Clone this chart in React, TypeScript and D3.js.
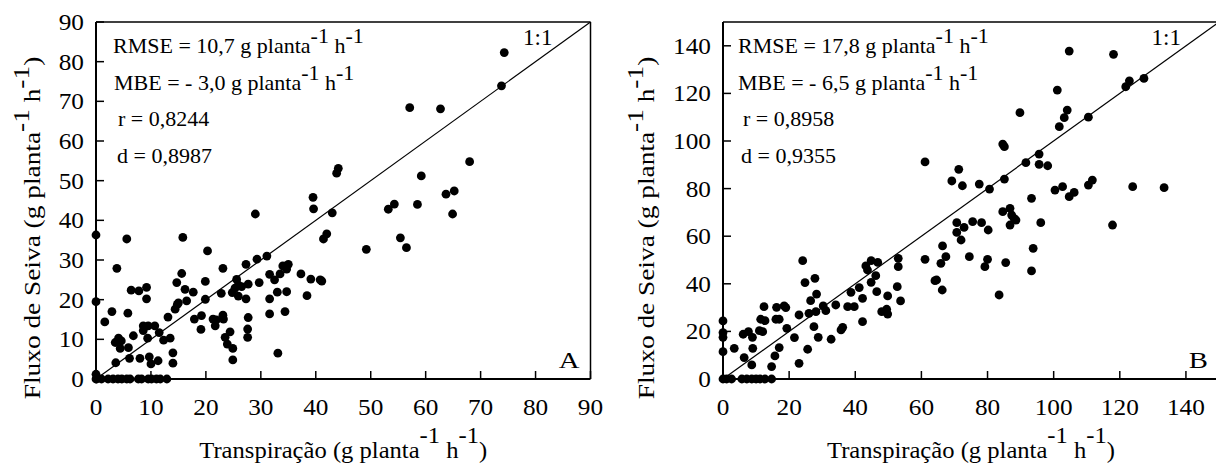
import React from "react";
import * as d3 from "d3";

// ---------- data ----------
const ticksA = [0, 10, 20, 30, 40, 50, 60, 70, 80, 90];
const ticksB = [0, 20, 40, 60, 80, 100, 120, 140];

const panelA_x = [
  0, 0, 5.6, 15.8, 3.8, 1.6, 2.9, 3.5, 4.1, 4.4, 4.6, 3.6, 5.8, 6.4, 7.8, 9.2, 9.2, 6.8, 5.9, 6.1,
  8.0, 8.6, 8.6, 9.5, 9.4, 10.7, 11.5, 9.7, 10.0, 11.3, 12.3, 13.5, 14.0, 14.0, 13.1, 14.4, 14.8, 15.0, 14.7, 15.6,
  16.2, 16.5, 17.7, 17.9, 19.2, 19.1, 19.9, 20.3, 19.9, 21.3, 21.7, 21.9, 22.8, 23.1, 23.1, 23.2, 23.5, 23.9, 24.4, 24.9,
  24.9, 24.8, 25.6, 25.9, 25.3, 25.9, 26.5, 27.3, 27.3, 27.7, 27.7, 27.6, 27.6, 29.3, 29.7, 31.1, 31.6, 31.6, 31.6, 32.5,
  33.0, 33.5, 33.1, 34.0, 34.7, 35.0, 34.4, 34.7, 37.3, 38.4, 39.1, 40.8, 41.1, 41.4, 42.0, 49.2, 29.0, 39.5, 39.6, 43.0,
  43.8, 44.1, 53.2, 54.3, 55.4, 56.5, 58.5, 59.2, 57.1, 62.7, 63.7, 65.2, 64.9, 68.0, 73.8, 74.3,
  0, 0.1, 1.0, 2.2, 3.1, 4.0, 4.7, 5.6, 6.2, 7.7, 8.3, 9.5, 10.1, 11.0, 11.7, 12.9, 0,
];
const panelA_y = [
  36.3, 19.5, 35.3, 35.7, 27.9, 14.4, 17.0, 9.2, 10.3, 7.7, 9.6, 4.1, 16.6, 22.4, 22.2, 23.1, 20.2, 10.9, 7.9, 5.2,
  5.2, 13.4, 12.2, 13.4, 10.3, 13.4, 11.7, 5.6, 3.8, 4.6, 9.8, 10.3, 6.6, 4.0, 15.6, 17.6, 18.8, 19.2, 24.3, 26.6,
  22.6, 19.7, 21.9, 15.1, 16.0, 12.5, 24.6, 32.3, 20.1, 15.1, 13.4, 14.9, 21.6, 27.9, 16.1, 15.1, 10.5, 8.8, 11.9, 7.7,
  4.8, 21.8, 25.1, 23.7, 22.9, 20.9, 23.3, 28.9, 20.2, 23.9, 15.5, 12.6, 10.5, 30.2, 24.3, 31.0, 20.2, 26.4, 16.4, 25.0,
  21.9, 26.5, 6.5, 28.5, 27.7, 28.9, 17.0, 22.0, 26.5, 21.0, 25.2, 25.0, 24.7, 35.3, 36.6, 32.7, 41.6, 45.8, 42.9, 41.9,
  51.9, 53.1, 42.8, 44.1, 35.6, 33.1, 44.0, 51.2, 68.4, 68.1, 46.6, 47.4, 41.6, 54.8, 73.9, 82.3,
  0, 0, 0, 0, 0, 0, 0, 0, 0, 0, 0, 0, 0, 0, 0, 0, 1.2,
];

const panelB_x = [
  0, 0, 0, 0, 3.4, 6.1, 7.7, 8.9, 6.4, 9.0, 8.7, 11.0, 12.0, 11.4, 12.7, 12.4, 14.7, 15.7, 17.0, 16.0,
  17.0, 16.2, 18.5, 19.0, 19.3, 21.6, 23.0, 23.0, 24.1, 24.8, 25.6, 26.0, 26.5, 27.5, 27.8, 28.3, 28.1, 28.8, 30.3, 31.1,
  32.7, 34.1, 35.7, 36.2, 38.7, 37.7, 39.7, 41.2, 42.2, 42.2, 43.2, 43.7, 44.8, 46.8, 44.8, 46.2, 46.5, 48.0, 49.5, 49.8,
  49.8, 52.7, 53.0, 53.0, 53.7, 61.1, 64.1, 64.6, 66.3, 66.4, 67.4, 65.9, 70.7, 70.7, 72.0, 72.9, 74.5, 75.5, 78.2, 79.2,
  80.0, 80.2, 85.5, 83.5, 86.8, 88.6, 88.0, 87.3, 84.6, 86.8, 93.8, 93.3, 96.1, 117.8, 61.1, 69.2, 71.3, 72.4, 77.5, 80.6,
  85.1, 84.6, 85.1, 89.8, 91.6, 95.6, 95.6, 98.2, 93.3, 100.4, 102.7, 104.7, 106.2, 110.5, 111.7, 123.9, 133.4, 101.7, 103.2, 104.1,
  110.5, 101.1, 104.7, 118.1, 121.8, 122.9, 127.3,
  0, 1.1, 2.6, 5.7, 7.2, 8.7, 10.0, 11.2, 12.7, 14.7,
];
const panelB_y = [
  24.4, 19.5, 17.5, 11.5, 12.9, 18.8, 19.9, 17.5, 9.0, 12.9, 5.9, 20.3, 19.9, 25.1, 24.5, 30.4, 5.2, 9.7, 13.2, 25.1,
  25.1, 30.1, 30.7, 30.0, 21.3, 17.4, 26.9, 6.6, 49.7, 40.5, 12.5, 27.6, 32.9, 22.0, 42.3, 35.7, 28.3, 17.5, 30.7, 28.7,
  16.7, 31.1, 20.6, 21.7, 36.4, 30.4, 30.4, 38.4, 24.1, 33.9, 47.5, 45.8, 49.7, 49.0, 40.6, 43.4, 36.7, 28.3, 29.3, 27.3,
  34.9, 38.8, 50.7, 47.2, 32.8, 50.3, 41.3, 41.6, 37.4, 55.9, 51.4, 48.6, 65.7, 61.6, 58.4, 63.7, 51.4, 66.1, 65.7, 47.2,
  50.3, 62.6, 48.9, 35.3, 64.7, 66.8, 67.5, 68.9, 70.3, 71.7, 54.9, 45.4, 65.7, 64.7, 91.2, 83.2, 88.1, 81.2, 81.9, 79.8,
  84.0, 98.7, 97.6, 111.9, 90.9, 94.5, 90.2, 89.6, 75.9, 79.4, 80.8, 76.6, 78.4, 81.5, 83.6, 80.8, 80.4, 106.0, 109.8, 113.0,
  110.0, 121.4, 137.8, 136.4, 122.8, 125.3, 126.3,
  0, 0, 0, 0, 0, 0, 0, 0, 0, 0,
];

const statsA = ["10,7", "- 3,0", "0,8244", "0,8987"];
const statsB = ["17,8", "- 6,5", "0,8958", "0,9355"];

const FONT = "Liberation Serif";

type PanelProps = {
  xs: number[];
  ys: number[];
  ticks: number[];
  max: number;
  left: number;
  right: number;
  stats: string[];
  letter: string;
  ytitleX: number;
  statsDx: number[];
};

function Sup({ text, raise }: { text: string; raise: number }) {
  return (
    <>
      <tspan dy={-raise}>-1</tspan>
      <tspan dy={raise}>{text}</tspan>
    </>
  );
}

function Panel({ xs, ys, ticks, max, left, right, stats, letter, ytitleX, statsDx }: PanelProps) {
  const top = 22;
  const bottom = 379;
  const x = d3.scaleLinear().domain([0, max]).range([left, right]);
  const y = d3.scaleLinear().domain([0, max]).range([bottom, top]);
  const tickLen = 8;
  const cx = (left + right) / 2;
  const lines = [
    { label: "RMSE = " + stats[0] + " g planta", unit: true, dx: statsDx[0], base: 53 },
    { label: "MBE = " + stats[1] + " g planta", unit: true, dx: statsDx[1], base: 90 },
    { label: "r = " + stats[2], unit: false, dx: statsDx[2], base: 126 },
    { label: "d = " + stats[3], unit: false, dx: statsDx[3], base: 163 },
  ];
  return (
    <g fontFamily={FONT} fill="#000">
      {/* box */}
      <line x1={left} x2={right} y1={top} y2={top} stroke="#000" strokeWidth={1.5} />
      <line x1={right} x2={right} y1={top} y2={bottom} stroke="#000" strokeWidth={1.5} />
      <line x1={left} x2={left} y1={top} y2={bottom + 1} stroke="#000" strokeWidth={2} />
      <line x1={left - 1} x2={right} y1={bottom} y2={bottom} stroke="#000" strokeWidth={2} />
      {/* ticks */}
      {ticks.map((t) => (
        <g key={"xt" + t}>
          <line x1={x(t)} x2={x(t)} y1={bottom} y2={bottom - tickLen} stroke="#000" strokeWidth={1.5} />
          <g transform={`translate(${x(t)},415) scale(1.1,1)`}>
            <text x={0} y={0} fontFamily={FONT} fontSize={23} textAnchor="middle">
              {t}
            </text>
          </g>
        </g>
      ))}
      {ticks.map((t) => (
        <g key={"yt" + t}>
          <line x1={left} x2={left + tickLen} y1={y(t)} y2={y(t)} stroke="#000" strokeWidth={1.5} />
          <g transform={`translate(${left - 12},${y(t)}) scale(1.1,1)`}>
            <text x={0} y={0} dy="0.35em" fontFamily={FONT} fontSize={23} textAnchor="end">
              {t}
            </text>
          </g>
        </g>
      ))}
      {/* 1:1 line */}
      <line x1={x(0)} y1={y(0)} x2={x(max)} y2={y(max)} stroke="#000" strokeWidth={1.2} />
      {/* points */}
      {xs.map((v, i) => (
        <circle key={i} cx={x(v)} cy={y(ys[i])} r={4.4} fill="#000" />
      ))}
      {/* annotations */}
      {lines.map((l, i) => (
        <text
          key={i}
          x={left + l.dx}
          y={l.base}
          fontFamily={FONT}
          fontSize={22}
          style={{ whiteSpace: "pre" }}
        >
          {l.label}
          {l.unit ? (
            <>
              <Sup text=" h" raise={10} />
              <tspan dy={-10}>-1</tspan>
            </>
          ) : null}
        </text>
      ))}
      <text x={right - 38} y={45} fontFamily={FONT} fontSize={23} textAnchor="end" style={{ whiteSpace: "pre" }}>
        1:1
      </text>
      <g transform={`translate(${right - 11},368) scale(1.25,1)`}>
        <text x={0} y={0} fontFamily={FONT} fontSize={23} textAnchor="end">
          {letter}
        </text>
      </g>
      {/* x title */}
      <g transform={`translate(${cx},458) scale(1.07,1)`}>
        <text x={0} y={0} fontFamily={FONT} fontSize={23} textAnchor="middle" style={{ whiteSpace: "pre" }}>
          {"Transpiração (g planta"}
          <Sup text=" h" raise={15} />
          <tspan dy={-15}>-1</tspan>
          <tspan dy={15}>)</tspan>
        </text>
      </g>
      {/* y title */}
      <g transform={`translate(${ytitleX},228) rotate(-90) scale(1.14,1)`}>
        <text x={0} y={0} fontFamily={FONT} fontSize={24} textAnchor="middle" style={{ whiteSpace: "pre" }}>
          {"Fluxo de Seiva (g planta"}
          <Sup text=" h" raise={11} />
          <tspan dy={-11}>-1</tspan>
          <tspan dy={11}>)</tspan>
        </text>
      </g>
    </g>
  );
}

export default function App() {
  return (
    <svg
      width={1216}
      height={473}
      viewBox="0 0 1216 473"
      style={{ position: "absolute", left: 0, top: 0, background: "#fff" }}
    >
      <rect x={0} y={0} width={1216} height={473} fill="#fff" />
      <Panel
        xs={panelA_x}
        ys={panelA_y}
        ticks={ticksA}
        max={90}
        left={96}
        right={590.5}
        stats={statsA}
        letter="A"
        ytitleX={40}
        statsDx={[17, 18, 22, 21]}
      />
      <Panel
        xs={panelB_x}
        ys={panelB_y}
        ticks={ticksB}
        max={150}
        left={723}
        right={1219}
        stats={statsB}
        letter="B"
        ytitleX={654}
        statsDx={[15, 15, 20, 18]}
      />
    </svg>
  );
}
